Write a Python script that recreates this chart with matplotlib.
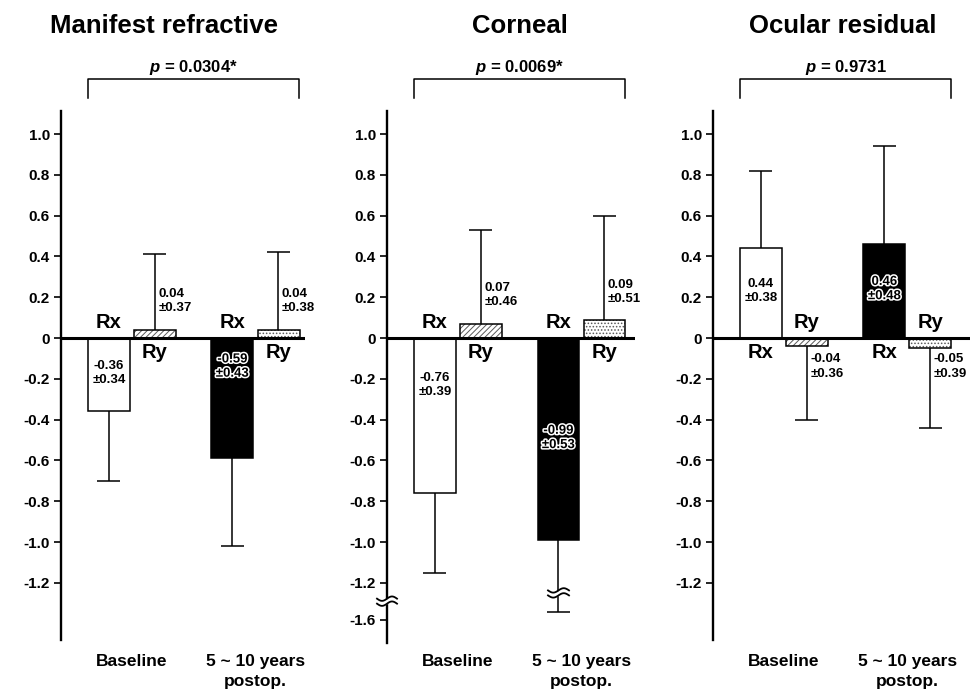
import numpy as np
import matplotlib
matplotlib.use("Agg")
import matplotlib.pyplot as plt
import matplotlib.transforms as mtransforms
from matplotlib.patheffects import withStroke

plt.rcParams['font.family'] = ['Liberation Sans', 'DejaVu Sans']
plt.rcParams['font.weight'] = 'bold'
plt.rcParams['mathtext.fontset'] = 'custom'
plt.rcParams['mathtext.it'] = 'Liberation Sans:italic:bold'
plt.rcParams['mathtext.rm'] = 'Liberation Sans:bold'
plt.rcParams['hatch.linewidth'] = 0.7

# ---------------- data ----------------
titles = ['Manifest refractive', 'Corneal', 'Ocular residual']
p_values = ['0.0304*', '0.0069*', '0.9731']
groups = ['Baseline', '5 ~ 10 years\npostop.']
rx_mean = [[-0.36, -0.59], [-0.76, -0.99], [0.44, 0.46]]
rx_sd = [[0.34, 0.43], [0.39, 0.53], [0.38, 0.48]]
ry_mean = [[0.04, 0.04], [0.07, 0.09], [-0.04, -0.05]]
ry_sd = [[0.37, 0.38], [0.46, 0.51], [0.36, 0.39]]
tick_vals = [1.0, 0.8, 0.6, 0.4, 0.2, 0.0, -0.2, -0.4, -0.6, -0.8, -1.0, -1.2]
tick_labels = ['1.0', '0.8', '0.6', '0.4', '0.2', '0', '-0.2', '-0.4', '-0.6',
               '-0.8', '-1.0', '-1.2']
broken_tick_val = -1.6
broken_tick_label = '-1.6'

# ---------------- layout ----------------
W, H = 978, 697
fig = plt.figure(figsize=(W / 100, H / 100), dpi=100)

PXU = 123.5          # pixels per group unit (x)
BW = 42 / PXU        # bar width
OFF = 23 / PXU       # Rx/Ry offset
X_LEFT = -71 / PXU
axis_px = [61, 387, 713]
right_px = [305, 635, 970]
top_px = 111
bottom_px = [640, 643, 640]
zero_px = 338
PPY = 204.0          # pixels per unit (y)

BREAK = -1.2
K = 0.45


def fwd(y):
    y = np.asarray(y, dtype=float)
    return np.where(y >= BREAK, y, BREAK + (y - BREAK) * K)


def inv(y):
    y = np.asarray(y, dtype=float)
    return np.where(y >= BREAK, y, BREAK + (y - BREAK) / K)


rx_label_y = [[-0.17, -0.14], [-0.23, -0.49], [0.23, 0.24]]
ry_label_y = [[0.18, 0.18], [0.21, 0.225], [-0.14, -0.14]]


def break_mark(ax, x, y, width=20, gap=5, amp=2.2):
    trans = mtransforms.Affine2D() + mtransforms.ScaledTranslation(x, y, ax.transData)
    t = np.linspace(-width / 2, width / 2, 60)
    s = amp * np.sin(t / (width / 2) * np.pi)
    y1 = s + gap / 2
    y2 = s - gap / 2
    ax.fill_between(t, y2, y1, color='white', transform=trans, clip_on=False, zorder=6,
                    linewidth=0)
    ax.plot(t, y1, color='black', lw=1.3, transform=trans, clip_on=False, zorder=7)
    ax.plot(t, y2, color='black', lw=1.3, transform=trans, clip_on=False, zorder=7)


for i in range(3):
    left = axis_px[i]
    width = right_px[i] - left
    bpx = bottom_px[i]
    ax = fig.add_axes([left / W, 1 - bpx / H, width / W, (bpx - top_px) / H])
    ax.patch.set_alpha(0)
    x_right = (width - 71) / PXU
    ax.set_xlim(X_LEFT, x_right)
    top_v = (zero_px - top_px) / PPY
    bot_t = -(bpx - zero_px) / PPY
    if i == 1:
        ax.set_yscale('function', functions=(fwd, inv))
        ax.set_ylim(float(inv(bot_t)), top_v)
        ax.set_yticks(tick_vals + [broken_tick_val])
        ax.set_yticklabels(tick_labels + [broken_tick_label])
    else:
        ax.set_ylim(bot_t, top_v)
        ax.set_yticks(tick_vals)
        ax.set_yticklabels(tick_labels)
    ax.minorticks_off()
    for sp in ['top', 'right', 'bottom']:
        ax.spines[sp].set_visible(False)
    ax.spines['left'].set_linewidth(1.7)
    ax.tick_params(axis='y', length=5, width=1.2, pad=3, labelsize=11)
    ax.tick_params(axis='x', bottom=False, labelbottom=False)
    ax.axhline(0, color='black', lw=2.2, zorder=5)

    xs = np.arange(2)
    x_rx = xs - OFF
    x_ry = xs + OFF
    # Rx bars
    ax.bar(x_rx[0], rx_mean[i][0], BW, color='white', edgecolor='black', lw=1.1, zorder=3)
    ax.bar(x_rx[1], rx_mean[i][1], BW, color='black', edgecolor='black', lw=1.1, zorder=3)
    # Ry bars (gray hatch, black outline)
    for j, hatch in enumerate(['//////', '.....']):
        ax.bar(x_ry[j], ry_mean[i][j], BW, color='white', edgecolor='0.35', hatch=hatch,
               lw=0, zorder=3)
        ax.bar(x_ry[j], ry_mean[i][j], BW, fill=False, edgecolor='black', lw=1.1, zorder=3)

    # error bars (one-sided)
    cap = 11.5 / PXU
    for xarr, means, sds in [(x_rx, rx_mean[i], rx_sd[i]), (x_ry, ry_mean[i], ry_sd[i])]:
        for x, m, sd in zip(xarr, means, sds):
            end = m + np.sign(m) * sd
            ax.vlines(x, m, end, color='black', lw=1.1, zorder=4)
            ax.hlines(end, x - cap, x + cap, color='black', lw=1.1, zorder=4)

    # Rx / Ry name labels
    up, dn = 0.074, -0.07
    for j in range(2):
        m = rx_mean[i][j]
        ax.text(x_rx[j], up if m < 0 else dn, 'Rx', ha='center', va='center',
                fontsize=14.5, zorder=8)
        m = ry_mean[i][j]
        ax.text(x_ry[j], up if m < 0 else dn, 'Ry', ha='center', va='center',
                fontsize=14.5, zorder=8)

    # value labels
    for j in range(2):
        txt = f"{rx_mean[i][j]:.2f}\n±{rx_sd[i][j]:.2f}"
        kw = dict(ha='center', va='center', fontsize=9.5, linespacing=1.25, zorder=8)
        if j == 1:
            ax.text(x_rx[j], rx_label_y[i][j], txt, color='black',
                    path_effects=[withStroke(linewidth=2.2, foreground='white')], **kw)
        else:
            ax.text(x_rx[j], rx_label_y[i][j], txt, color='black', **kw)
        txt = f"{ry_mean[i][j]:.2f}\n±{ry_sd[i][j]:.2f}"
        ax.text(x_ry[j] + 3.5 / PXU, ry_label_y[i][j], txt, ha='left', va='center',
                fontsize=9.5, linespacing=1.25, zorder=8)

    # group labels under the axis
    def ay(px):
        return (bpx - px) / (bpx - top_px)

    for j in range(2):
        ax.text(xs[j], ay(654), groups[j], transform=ax.get_xaxis_transform(),
                ha='center', va='top', fontsize=12.5, linespacing=1.4)

    # bracket with p value
    xl = x_rx[0] - BW / 2
    xr = x_ry[1] + BW / 2
    ax.plot([xl, xl, xr, xr], [ay(98), ay(79), ay(79), ay(98)], color='black', lw=1.1,
            transform=ax.get_xaxis_transform(), clip_on=False)
    ax.text((xl + xr) / 2, ay(72), r'$p$ = ' + p_values[i], ha='center', va='baseline',
            transform=ax.get_xaxis_transform(), fontsize=12)

    if i == 1:
        break_mark(ax, X_LEFT, -1.4)
        break_mark(ax, x_rx[1], -1.31, width=21)

title_x = [164, 520, 843]
for i in range(3):
    fig.text(title_x[i] / W, 1 - 26 / H, titles[i], ha='center', va='center',
             fontsize=18.5, fontweight='bold')

fig.savefig('out.png', dpi=100)
